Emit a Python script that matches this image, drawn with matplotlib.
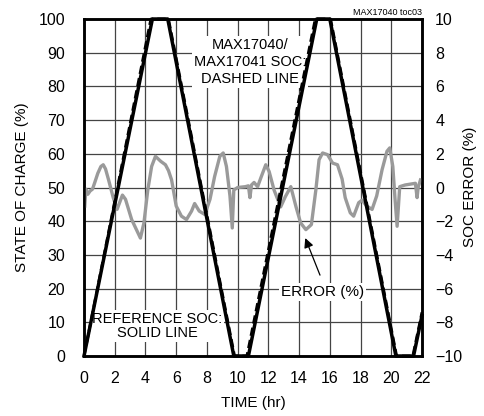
import matplotlib.pyplot as plt
import numpy as np

# reference SOC (solid) and fuel gauge SOC (dashed), %
t_ref = [0, 4.45, 5.45, 9.75, 10.7, 15.15, 16.0, 20.3, 21.45, 22]
soc_ref = [0, 100, 100, 0, 0, 100, 100, 0, 0, 12]
t_est = [0, 4.35, 5.5, 9.8, 10.6, 15.05, 16.05, 20.35, 21.4, 22]
soc_est = [0, 100, 100, 0, 0, 100, 100, 0, 0, 13]

# SOC error, %
t_err = [0.05, 0.12, 0.25, 0.4, 0.55, 0.7, 0.9, 1.1, 1.25, 1.4, 1.6, 1.9, 2.15,
         2.5, 2.7, 3.1, 3.67, 3.9, 4.15, 4.4, 4.65, 5.0, 5.3, 5.5, 5.7, 6.0,
         6.34, 6.67, 7.0, 7.2, 7.5, 7.86, 8.2, 8.5, 8.84, 9.06, 9.27, 9.5, 9.65,
         9.75, 10.0, 10.5, 10.7, 10.8, 10.9, 11.07, 11.3, 11.5, 11.83, 12.05,
         12.37, 12.8, 13.1, 13.46, 13.8, 14.1, 14.44, 14.8, 15.09, 15.3, 15.53,
         15.85, 16.18, 16.5, 16.8, 17.0, 17.33, 17.55, 17.88, 18.1, 18.4, 18.75,
         19.05, 19.4, 19.72, 19.9, 20.1, 20.25, 20.38, 20.55, 20.9, 21.57, 21.68,
         21.75, 21.9]
err = [-1.1, -0.1, -0.4, -0.2, -0.1, 0.3, 0.85, 1.25, 1.35, 1.1, 0.45, -0.6, -1.3,
       -0.45, -0.7, -1.9, -3.0, -2.1, -0.15, 1.25, 1.85, 1.55, 1.35, 1.0, 0.45, -1.1,
       -1.7, -1.9, -1.4, -0.95, -1.4, -1.6, -0.7, 0.65, 1.85, 2.05, 1.25, -0.5, -2.4,
       -0.15, 0.0, 0.05, 0.1, -0.6, 0.15, 0.3, 0.05, 0.55, 1.35, 0.95,
       -0.15, -1.15, -0.55, 0.05, -1.15, -2.1, -2.5, -2.2, -0.15, 1.65, 2.05,
       1.95, 1.45, 1.35, 0.5, -0.6, -1.5, -1.7, -0.9, -0.75, -1.1, -1.3,
       -0.5, 1.05, 2.15, 2.35, 1.25, -0.75, -2.3, 0.05, 0.15, 0.25, -0.6,
       0.0, 0.45]

x_ticks = np.arange(0, 23, 2)
soc_ticks = np.arange(0, 101, 10)
err_ticks = np.arange(-10, 11, 2)

plt.rcParams['font.family'] = ['Liberation Sans', 'DejaVu Sans']

fig = plt.figure(figsize=(4.84, 4.16), dpi=100)
ax2 = fig.add_axes([0.1736, 0.1442, 0.6983, 0.8101])
ax = ax2.twinx()
ax.yaxis.tick_left()
ax2.yaxis.tick_right()

# error axis at the back, with the grid
ax2.set_xlim(0, 22)
ax2.set_ylim(-10, 10)
ax2.set_xticks(x_ticks)
ax2.set_yticks(err_ticks)
ax2.grid(True, color='#444444', lw=0.9)
ax2.plot(t_err, err, color='#9a9a9a', lw=2.4, solid_joinstyle='round', zorder=3)
ax2.tick_params(axis='y', length=0, pad=9.5, labelsize=11.5)
ax2.tick_params(axis='x', length=0, pad=11, labelsize=11.5)

# SOC axis in front
ax.set_xlim(0, 22)
ax.set_ylim(0, 100)
ax.set_yticks(soc_ticks)
ax.patch.set_visible(False)
ax.tick_params(axis='y', length=0, pad=13.5, labelsize=11.5)
ax.plot(t_ref, soc_ref, color='black', lw=2.5, clip_on=False, zorder=4)
ax.plot(t_est, soc_est, color='black', lw=2.0, ls=(0, (3, 1.5)), clip_on=False, zorder=4)

for a in (ax, ax2):
    for s in a.spines.values():
        s.set_linewidth(1.8)

box = dict(facecolor='white', edgecolor='none', pad=1.5)
ax.text(10.8, 87.2, 'MAX17040/\nMAX17041 SOC:\nDASHED LINE', ha='center', va='center',
        fontsize=10.5, linespacing=1.3, bbox=box, zorder=3)
ax.text(4.77, 8.9, 'REFERENCE SOC:\nSOLID LINE', ha='center', va='center',
        fontsize=10.5, linespacing=1.0, bbox=box, zorder=3)
ax.text(15.52, 19.1, 'ERROR (%)', ha='center', va='center', fontsize=11,
        bbox=box, zorder=3)
ax.annotate('', xy=(14.4, -3.0), xycoords=ax2.transData, xytext=(15.36, -5.2),
            textcoords=ax2.transData,
            arrowprops=dict(arrowstyle='-|>', color='black', lw=0.9, mutation_scale=14,
                            shrinkA=0, shrinkB=0), zorder=5)

ax2.set_xlabel('TIME (hr)', fontsize=11)
ax2.xaxis.set_label_coords(0.5, -0.12)
fig.text(22 / 484, 1 - 187 / 416, 'STATE OF CHARGE (%)', rotation=90,
         ha='center', va='center', fontsize=11)
fig.text(470 / 484, 1 - 187 / 416, 'SOC ERROR (%)', rotation=90,
         ha='center', va='center', fontsize=11)
fig.text(422 / 484, 1 - 12.5 / 416, 'MAX17040 toc03', ha='right', va='center',
         fontsize=6.5)

fig.savefig('out.png', dpi=100)
